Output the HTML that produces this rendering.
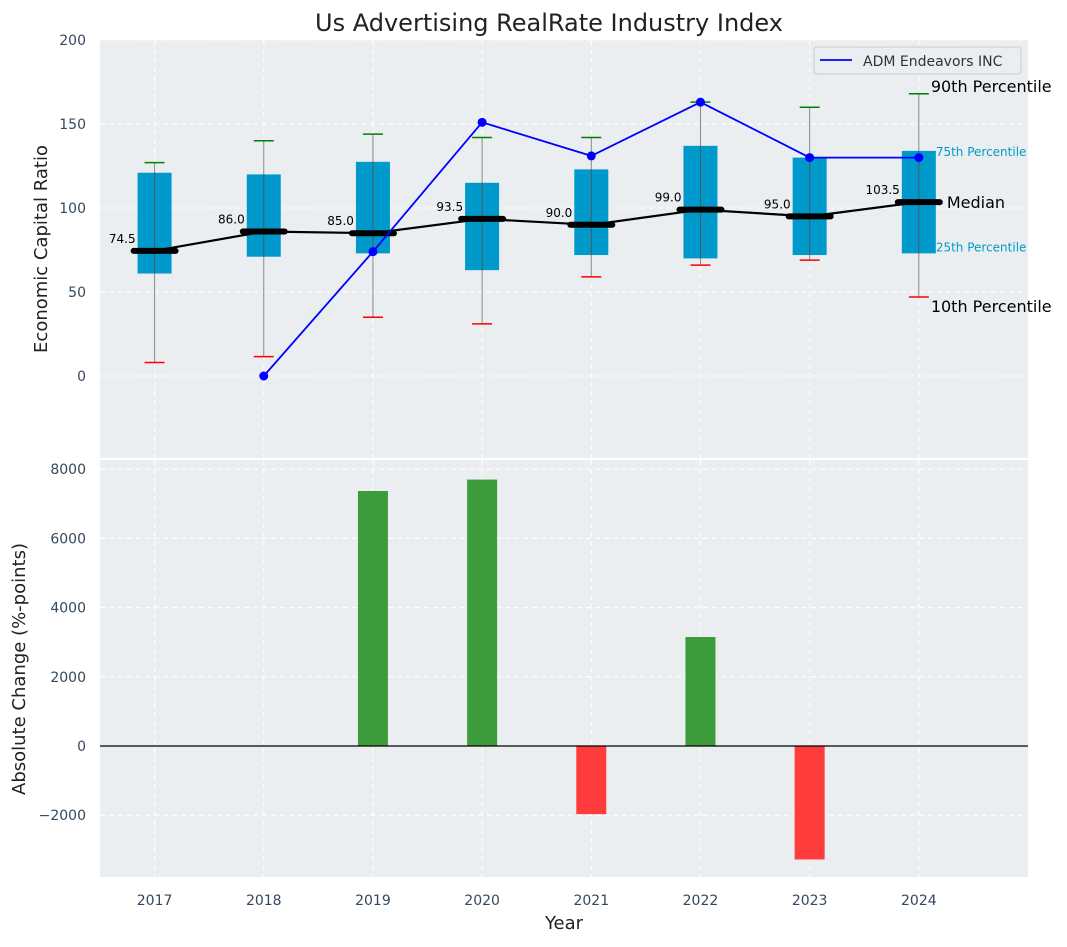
<!DOCTYPE html>
<html><head><meta charset="utf-8"><style>
body{margin:0;background:#fff;font-family:"Liberation Sans","DejaVu Sans",sans-serif}
svg text{font-family:"DejaVu Sans","Liberation Sans",sans-serif}
</style></head><body>
<svg id="c" width="1067" height="942" xmlns="http://www.w3.org/2000/svg"></svg>
<script>
const years=[2017,2018,2019,2020,2021,2022,2023,2024];
const p10=[8,11.5,35,31,59,66,69,47];
const q1=[61,71,73,63,72,70,72,73];
const medians=[74.5,86,85,93.5,90,99,95,103.5];
const q3=[121,120,127.5,115,123,137,130,134];
const p90=[127,140,144,142,142,163,160,168];
const admYears=[2018,2019,2020,2021,2022,2023,2024];
const admValues=[0,74,151,131,163,130,130];
const changeYears=[2017,2018,2019,2020,2021,2022,2023,2024];
const changes=[0,0,7370,7700,-1970,3150,-3280,0];
const topTicks=[0,50,100,150,200];
const botTicks=[-2000,0,2000,4000,6000,8000];

const svg=document.getElementById('c');
const NS='http://www.w3.org/2000/svg';
function el(tag,attrs,parent,text){const e=document.createElementNS(NS,tag);for(const k in attrs)e.setAttribute(k,attrs[k]);if(text!==undefined)e.textContent=text;(parent||svg).appendChild(e);return e;}
const L=100,R=1028;
const x=v=>L+(v-2016.5)/(2025-2016.5)*(R-L);
const T1=40,B1=458,T2=460,B2=877;
const y1=v=>376-v*1.68;
const y2=v=>746-v*0.0346;

// title
let t=el('text',{x:549,y:31,'text-anchor':'middle','font-size':24,fill:'#222'},svg,'Us Advertising RealRate Industry Index');


// panels
let p=el('rect',{x:L,y:T1,width:R-L,height:B1-T1,fill:'#ebeef0'});

p=el('rect',{x:L,y:T2,width:R-L,height:B2-T2,fill:'#ebeef0'});


// grids
years.forEach(yr=>{
  el('line',{x1:x(yr),x2:x(yr),y1:T1,y2:B1,stroke:'#fff','stroke-dasharray':'5,4','stroke-width':1});
  el('line',{x1:x(yr),x2:x(yr),y1:T2,y2:B2,stroke:'#fff','stroke-dasharray':'5,4','stroke-width':1});
  let tl=el('text',{x:x(yr),y:905,'text-anchor':'middle','font-size':14,fill:'#34495e'},svg,String(yr));
  
});
topTicks.forEach(v=>{
  el('line',{x1:L,x2:R,y1:y1(v),y2:y1(v),stroke:'#fff','stroke-dasharray':'5,4'});
  let tl=el('text',{x:86,y:y1(v)+5,'text-anchor':'end','font-size':14,fill:'#34495e'},svg,String(v));
  
});
botTicks.forEach(v=>{
  el('line',{x1:L,x2:R,y1:y2(v),y2:y2(v),stroke:'#fff','stroke-dasharray':'5,4'});
  let tl=el('text',{x:86,y:y2(v)+5,'text-anchor':'end','font-size':14,fill:'#34495e'},svg,(v<0?'\u2212'+(-v):String(v)));
  
});

// boxes
years.forEach((yr,i)=>{
  const cx=x(yr);
  let w=el('line',{x1:cx,x2:cx,y1:y1(p10[i]),y2:y1(p90[i]),stroke:'#888','stroke-width':1});
  
  let b=el('rect',{x:cx-17,y:y1(q3[i]),width:34,height:y1(q1[i])-y1(q3[i]),fill:'#0099cc'});
  
  el('line',{x1:cx,x2:cx,y1:y1(q1[i]),y2:y1(q3[i]),stroke:'#555','stroke-width':1});
  let c=el('line',{x1:cx-10,x2:cx+10,y1:y1(p90[i]),y2:y1(p90[i]),stroke:'green','stroke-width':1.5});
  
  c=el('line',{x1:cx-10,x2:cx+10,y1:y1(p10[i]),y2:y1(p10[i]),stroke:'red','stroke-width':1.5});
  
});
// median line
let mp=el('polyline',{points:years.map((yr,i)=>x(yr)+','+y1(medians[i])).join(' '),fill:'none',stroke:'#000','stroke-width':2.2});

years.forEach((yr,i)=>{
  const cx=x(yr);
  let m=el('line',{x1:cx-21,x2:cx+21,y1:y1(medians[i]),y2:y1(medians[i]),stroke:'#000','stroke-width':6,'stroke-linecap':'round'});
  
  let lt=el('text',{x:cx-19,y:y1(medians[i])-8,'text-anchor':'end','font-size':12,fill:'#000'},svg,medians[i].toFixed(1));
  
});
// ADM line
let al=el('polyline',{points:admYears.map((yr,i)=>x(yr)+','+y1(admValues[i])).join(' '),fill:'none',stroke:'#0000ff','stroke-width':1.8});

admYears.forEach((yr,i)=>{
  let d=el('circle',{cx:x(yr),cy:y1(admValues[i]),r:4.5,fill:'#0000ff'});
  
});
// annotations
const lx=x(2024);
[['90th Percentile',lx+12,y1(p90[7])-2,16,'#000'],['75th Percentile',lx+17,y1(q3[7])+5,12,'#0099cc'],['Median',lx+28,y1(medians[7])+6,16,'#000'],['25th Percentile',lx+17,y1(q1[7])+-2,12,'#0099cc'],['10th Percentile',lx+12,y1(p10[7])+15,16,'#000']].forEach(a=>{
  let at=el('text',{x:a[1],y:a[2],'font-size':a[3],fill:a[4]},svg,a[0]);
  
});
// legend
let lg=el('g',{});
el('rect',{x:814,y:47,width:207,height:27,rx:3,fill:'#ebeef0',stroke:'#ccc'},lg);
el('line',{x1:820,x2:852,y1:60,y2:60,stroke:'#0000ff','stroke-width':1.8},lg);
el('text',{x:863,y:66,'font-size':14,fill:'#333'},lg,'ADM Endeavors INC');

// bars
changeYears.forEach((yr,i)=>{
  if(changes[i]===0)return;
  const v=changes[i];
  let b=el('rect',{x:x(yr)-15,y:Math.min(y2(v),y2(0)),width:30,height:Math.abs(y2(v)-y2(0)),fill:v>0?'#3c9c3c':'#ff3c3c'});
  
});
el('line',{x1:L,x2:R,y1:y2(0),y2:y2(0),stroke:'#000','stroke-width':1.2});

// axis titles
let a=el('text',{x:47,y:249,'text-anchor':'middle','font-size':18,fill:'#222',transform:'rotate(-90 47 249)'},svg,'Economic Capital Ratio');

a=el('text',{x:25,y:669,'text-anchor':'middle','font-size':18,fill:'#222',transform:'rotate(-90 25 669)'},svg,'Absolute Change (%-points)');

a=el('text',{x:564,y:929,'text-anchor':'middle','font-size':18,fill:'#222'},svg,'Year');

</script>
</body></html>
